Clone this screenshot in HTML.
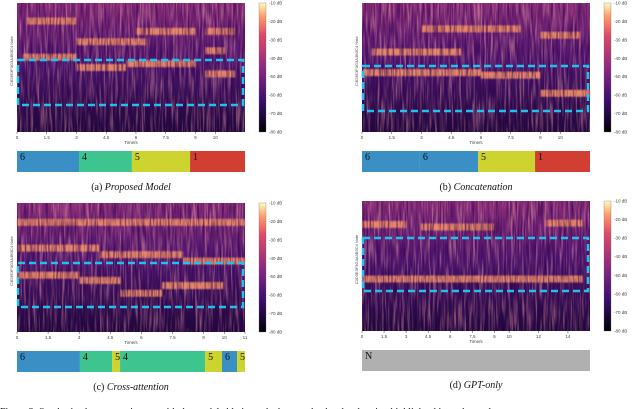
<!DOCTYPE html>
<html><head><meta charset="utf-8"><style>
body{margin:0;background:#fff;width:640px;height:409px;overflow:hidden;font-family:"Liberation Serif",serif}
svg{display:block}
</style></head><body>
<svg id="fig" width="640" height="409" xmlns="http://www.w3.org/2000/svg">
<defs>
<linearGradient id="magma" x1="0" y1="1" x2="0" y2="0">
<stop offset="0" stop-color="#000004"/><stop offset="0.25" stop-color="#3b0f70"/><stop offset="0.5" stop-color="#8c2981"/><stop offset="0.75" stop-color="#de4968"/><stop offset="0.9" stop-color="#fe9f6d"/><stop offset="1" stop-color="#fcfdbf"/>
</linearGradient>
<filter id="streak" x="0" y="0" width="100%" height="100%">
<feTurbulence type="fractalNoise" baseFrequency="0.45 0.03" numOctaves="2" seed="3"/>
<feColorMatrix type="matrix" values="0 0 0 0 0.9  0 0 0 0 0.35  0 0 0 0 0.4  0 0 0 -3 1.7"/>
</filter>
<filter id="dark" x="0" y="0" width="100%" height="100%">
<feTurbulence type="fractalNoise" baseFrequency="0.6 0.05" numOctaves="1" seed="9"/>
<feColorMatrix type="matrix" values="0 0 0 0 0.03  0 0 0 0 0.0  0 0 0 0 0.08  0 0 0 -3 1.8"/>
</filter>
<filter id="soft"><feGaussianBlur stdDeviation="0.8"/></filter>
<linearGradient id="vfade" x1="0" y1="0" x2="0" y2="1"><stop offset="0" stop-color="#8a2c78"/><stop offset="0.45" stop-color="#4e1670"/><stop offset="1" stop-color="#1c0838"/></linearGradient>
</defs>
</svg>
<script>
const panels=[
 {id:'a',x:17,y:3,w:228,h:129,tmax:11.5,xt:['0','1.5','3','4.5','6','7.5','9','10'],xv:[0,1.5,3,4.5,6,7.5,9,10],box:[60,105],cap:'(a) ',capI:'Proposed Model',cy:190},
 {id:'b',x:362,y:3,w:228,h:129,tmax:11.5,xt:['0','1.5','3','4.5','6','7.5','9','10'],xv:[0,1.5,3,4.5,6,7.5,9,10],box:[66,111],cap:'(b) ',capI:'Concatenation',cy:190},
 {id:'c',x:17,y:203,w:228,h:129,tmax:11,xt:['0','1.5','3','4.5','6','7.5','9','10','11'],xv:[0,1.5,3,4.5,6,7.5,9,10,11],box:[263,307],cap:'(c) ',capI:'Cross-attention',cy:390},
 {id:'d',x:362,y:201,w:228,h:130,tmax:15.5,xt:['0','1.5','3','4.5','6','7.5','9','10','12','14'],xv:[0,1.5,3,4.5,6,7.5,9,10,12,14],box:[238,291],cap:'(d) ',capI:'GPT-only',cy:388}
];
const notesA=[[0.3,3,0.42],[3,5.5,0.5],[5.5,9,0.47],[0.5,3,0.14],[3,4.5,0.3],[4.5,6.5,0.3],[6,9,0.22],[9.5,11,0.22],[9.5,10.5,0.37],[9.5,11,0.55]];
const notesB=[[0,3,0.54],[3,6,0.54],[0.5,5,0.38],[6,9,0.56],[9,11.5,0.7],[3,8,0.2],[9,11,0.25]];
const notesC=[[0,3,0.56],[3,5,0.6],[5,7,0.7],[7,10,0.64],[0,4,0.35],[4,8,0.4],[8,11,0.45],[0,11,0.15]];
const notesD=[[0,3,0.18],[4,9,0.2],[12.5,15,0.17],[0,15,0.6]];
const allNotes={a:notesA,b:notesB,c:notesC,d:notesD};
const segA=[[0,0.272,'6',0],[0.272,0.504,'4',1],[0.504,0.759,'5',2],[0.759,1,'1',3]];
const segB=[[0,0.254,'6',0],[0.254,0.509,'6',0],[0.509,0.759,'5',2],[0.759,1,'1',3]];
const segC=[[0,0.276,'6',0],[0.276,0.417,'4',1],[0.417,0.452,'5',2],[0.452,0.825,'4',1],[0.825,0.899,'5',2],[0.899,0.965,'6',0],[0.965,1,'5',2]];
const segD=[[0,1,'N',4]];
const allSeg={a:segA,b:segB,c:segC,d:segD};
const colors=['#3a8fc4','#3ec48f','#cdd42f','#d13f33','#b0b0b0'];
const cbTicks=['-10 dB','-20 dB','-30 dB','-40 dB','-50 dB','-60 dB','-70 dB','-80 dB'];
const NS='http://www.w3.org/2000/svg';
const svg=document.getElementById('fig');
function mk(t,a,p){const e=document.createElementNS(NS,t);for(const k in a)e.setAttribute(k,a[k]);(p||svg).appendChild(e);return e;}
panels.forEach(p=>{
 const g=mk('g',{});
 
 
 const sx=t=>p.x+t/p.tmax*p.w, sy=f=>p.y+f*p.h;
 const bg=mk('rect',{x:p.x,y:p.y,width:p.w,height:p.h,fill:'url(#vfade)'},g);
 
 
 mk('rect',{x:p.x,y:p.y,width:p.w,height:p.h,filter:'url(#streak)',opacity:0.5},g);
 allNotes[p.id].forEach(n=>{
  const r=mk('rect',{x:sx(n[0]),y:sy(n[2])-3.5,width:sx(n[1])-sx(n[0]),height:7,fill:'#f39068',opacity:0.9,filter:'url(#soft)'},g);
  
  
 });
 mk('rect',{x:p.x,y:p.y,width:p.w,height:p.h,filter:'url(#dark)',opacity:0.6},g);
 const b=mk('rect',{x:p.x+1,y:p.box[0],width:p.w-3,height:p.box[1]-p.box[0],fill:'none',stroke:'#22c0ee','stroke-width':2.5,'stroke-dasharray':'7,4'},g);
 
 
 p.xv.forEach((v,i)=>{
  mk('line',{x1:sx(v),x2:sx(v),y1:p.y+p.h,y2:p.y+p.h+2,stroke:'#333','stroke-width':0.5},g);
  const t=mk('text',{x:sx(v),y:p.y+p.h+7,'font-size':4.5,'text-anchor':'middle',fill:'#444','font-family':'Liberation Sans'},g);
  t.textContent=p.xt[i];
  
  
 });
 const xl=mk('text',{x:p.x+p.w/2,y:p.y+p.h+12,'font-size':4.5,'text-anchor':'middle',fill:'#444','font-family':'Liberation Sans'},g);
 xl.textContent='Time/s';
 
 
 const yl=mk('text',{x:0,y:0,'font-size':4,'text-anchor':'middle',fill:'#444','font-family':'Liberation Sans',transform:`translate(${p.x-4},${p.y+p.h*0.45}) rotate(-90)`},g);
 yl.textContent='C3D3E3F3G3A3B3C4 Note';
 
 
 const cx=p.x+p.w+14;
 const cb=mk('rect',{x:cx,y:p.y,width:7,height:p.h,fill:'url(#magma)',stroke:'#666','stroke-width':0.3},g);
 
 
 cbTicks.forEach((s,i)=>{
  const yy=p.y+i*p.h/(cbTicks.length-1);
  const t=mk('text',{x:cx+10,y:yy+1.5,'font-size':4.5,fill:'#444','font-family':'Liberation Sans'},g);
  t.textContent=s;
  
  
 });
 const by=p.y+p.h+19;
 allSeg[p.id].forEach(s=>{
  const r=mk('rect',{x:p.x+s[0]*p.w,y:by,width:(s[1]-s[0])*p.w,height:21,fill:colors[s[3]]},g);
  
  
  const t=mk('text',{x:p.x+s[0]*p.w+3,y:by+9,'font-size':10,fill:'#111'},g);
  t.textContent=s[2];
  
  
 });
 const c=mk('text',{x:p.x+p.w/2,y:p.cy,'font-size':10,'text-anchor':'middle',fill:'#111'},g);
 c.textContent=p.cap;
 const ti=mk('tspan',{'font-style':'italic'},c);ti.textContent=p.capI;
 
 
});
const foot=mk('text',{x:0,y:415,'font-size':10,fill:'#111'});
foot.textContent='Figure 3: Synthesized accompaniments with the model ablations; the box marks the chord region highlighted in each panel';


</script>
</body></html>
